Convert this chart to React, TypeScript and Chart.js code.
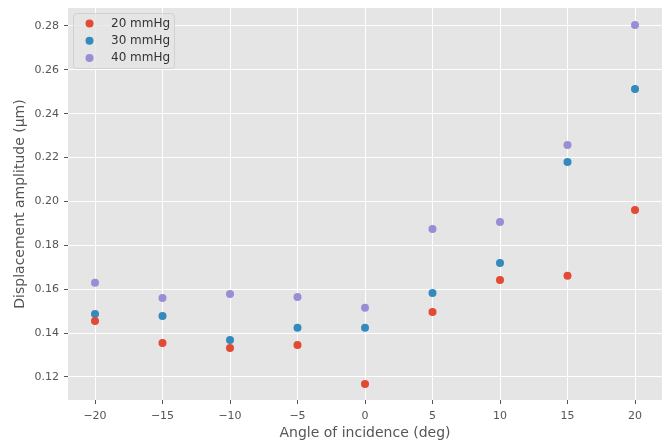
import React, { useEffect, useRef } from "react";
import { Chart, registerables } from "chart.js";

Chart.register(...registerables);

const angles = [-20, -15, -10, -5, 0, 5, 10, 15, 20];
const series20 = [0.1455, 0.1355, 0.1332, 0.1346, 0.1168, 0.1496, 0.1642, 0.1661, 0.1961];
const series30 = [0.1487, 0.1478, 0.1369, 0.1424, 0.1424, 0.1583, 0.172, 0.218, 0.2513];
const series40 = [0.1629, 0.156, 0.1578, 0.1565, 0.1515, 0.1875, 0.1907, 0.2258, 0.2805];
const seriesLabels = ["20 mmHg", "30 mmHg", "40 mmHg"];
const seriesColors = ["#E24A33", "#348ABD", "#988ED5"];
const xTicks = [-20, -15, -10, -5, 0, 5, 10, 15, 20];
const yTicks = [0.12, 0.14, 0.16, 0.18, 0.2, 0.22, 0.24, 0.26, 0.28];

const FONT = "'DejaVu Sans', sans-serif";

export default function App() {
  const ref = useRef<HTMLCanvasElement | null>(null);
  useEffect(() => {
    document.body.style.margin = "0";
    const all = [series20, series30, series40];
    const bgPlugin = {
      id: "bg",
      beforeDraw(chart: any) {
        const { ctx, chartArea: a } = chart;
        ctx.save();
        ctx.fillStyle = "#E5E5E5";
        ctx.fillRect(a.left, a.top, a.right - a.left, a.bottom - a.top);
        ctx.restore();
      },
    };
    const legendPlugin = {
      id: "mylegend",
      afterDatasetsDraw(chart: any) {
        const { ctx, chartArea: a } = chart;
        const x0 = a.left + 5;
        const y0 = a.top + 5;
        const w = 101;
        const h = 55;
        ctx.save();
        ctx.fillStyle = "rgba(229,229,229,0.8)";
        ctx.strokeStyle = "rgba(204,204,204,0.8)";
        ctx.lineWidth = 1;
        ctx.beginPath();
        (ctx as any).roundRect(x0 + 0.5, y0 + 0.5, w, h, 3);
        ctx.fill();
        ctx.stroke();
        ctx.font = `12px ${FONT}`;
        ctx.textBaseline = "middle";
        ctx.textAlign = "left";
        seriesLabels.forEach((lab, i) => {
          const cy = y0 + 10.5 + i * 17.3;
          ctx.fillStyle = seriesColors[i];
          ctx.beginPath();
          ctx.arc(x0 + 16.5, cy, 4, 0, Math.PI * 2);
          ctx.fill();
          ctx.fillStyle = "#333333";
          ctx.fillText(lab, x0 + 38, cy);
        });
        ctx.restore();
      },
    };
    const chart = new Chart(ref.current!, {
      type: "scatter",
      data: {
        datasets: all.map((s, i) => ({
          label: seriesLabels[i],
          data: angles.map((a, j) => ({ x: a, y: s[j] })),
          backgroundColor: seriesColors[i],
          borderColor: seriesColors[i],
          borderWidth: 0,
          pointRadius: 4,
        })),
      },
      options: {
        animation: false,
        responsive: false,
        devicePixelRatio: 1,
        layout: { padding: { top: 8, right: 5, left: 0, bottom: 0 } },
        plugins: { legend: { display: false }, tooltip: { enabled: false } },
        scales: {
          x: {
            type: "linear",
            min: -22,
            max: 22,
            afterBuildTicks: (s: any) => {
              s.ticks = xTicks.map((v) => ({ value: v }));
            },
            afterFit: (s: any) => {
              s.height = 45;
              s.paddingLeft = 0;
              s.paddingRight = 0;
            },
            grid: { color: "#FFFFFF", lineWidth: 1, tickColor: "#555555", tickLength: 4, drawTicks: true },
            border: { display: false },
            ticks: {
              color: "#555555",
              font: { family: FONT, size: 11 },
              padding: 6,
              callback: (v: any) => (v < 0 ? "\u2212" + Math.abs(v) : String(v)),
            },
            title: {
              display: true,
              text: "Angle of incidence (deg)",
              color: "#555555",
              font: { family: FONT, size: 14 },
              padding: { top: 0, bottom: 3 },
            },
          },
          y: {
            type: "linear",
            min: 0.1095,
            max: 0.2882,
            afterBuildTicks: (s: any) => {
              s.ticks = yTicks.map((v) => ({ value: v }));
            },
            afterFit: (s: any) => {
              s.width = 68;
              s.paddingTop = 0;
              s.paddingBottom = 0;
            },
            grid: { color: "#FFFFFF", lineWidth: 1, tickColor: "#555555", tickLength: 4, drawTicks: true },
            border: { display: false },
            ticks: {
              color: "#555555",
              font: { family: FONT, size: 11 },
              padding: 5,
              callback: (v: any) => Number(v).toFixed(2),
            },
            title: {
              display: true,
              text: "Displacement amplitude (\u03bcm)",
              color: "#555555",
              font: { family: FONT, size: 14 },
              padding: { top: 12, bottom: 0 },
            },
          },
        },
      },
      plugins: [bgPlugin, legendPlugin],
    } as any);
    return () => chart.destroy();
  }, []);
  return (
    <div style={{ position: "absolute", left: 0, top: 0, width: 667, height: 445, background: "#fff" }}>
      <canvas ref={ref} width={667} height={445} />
    </div>
  );
}
